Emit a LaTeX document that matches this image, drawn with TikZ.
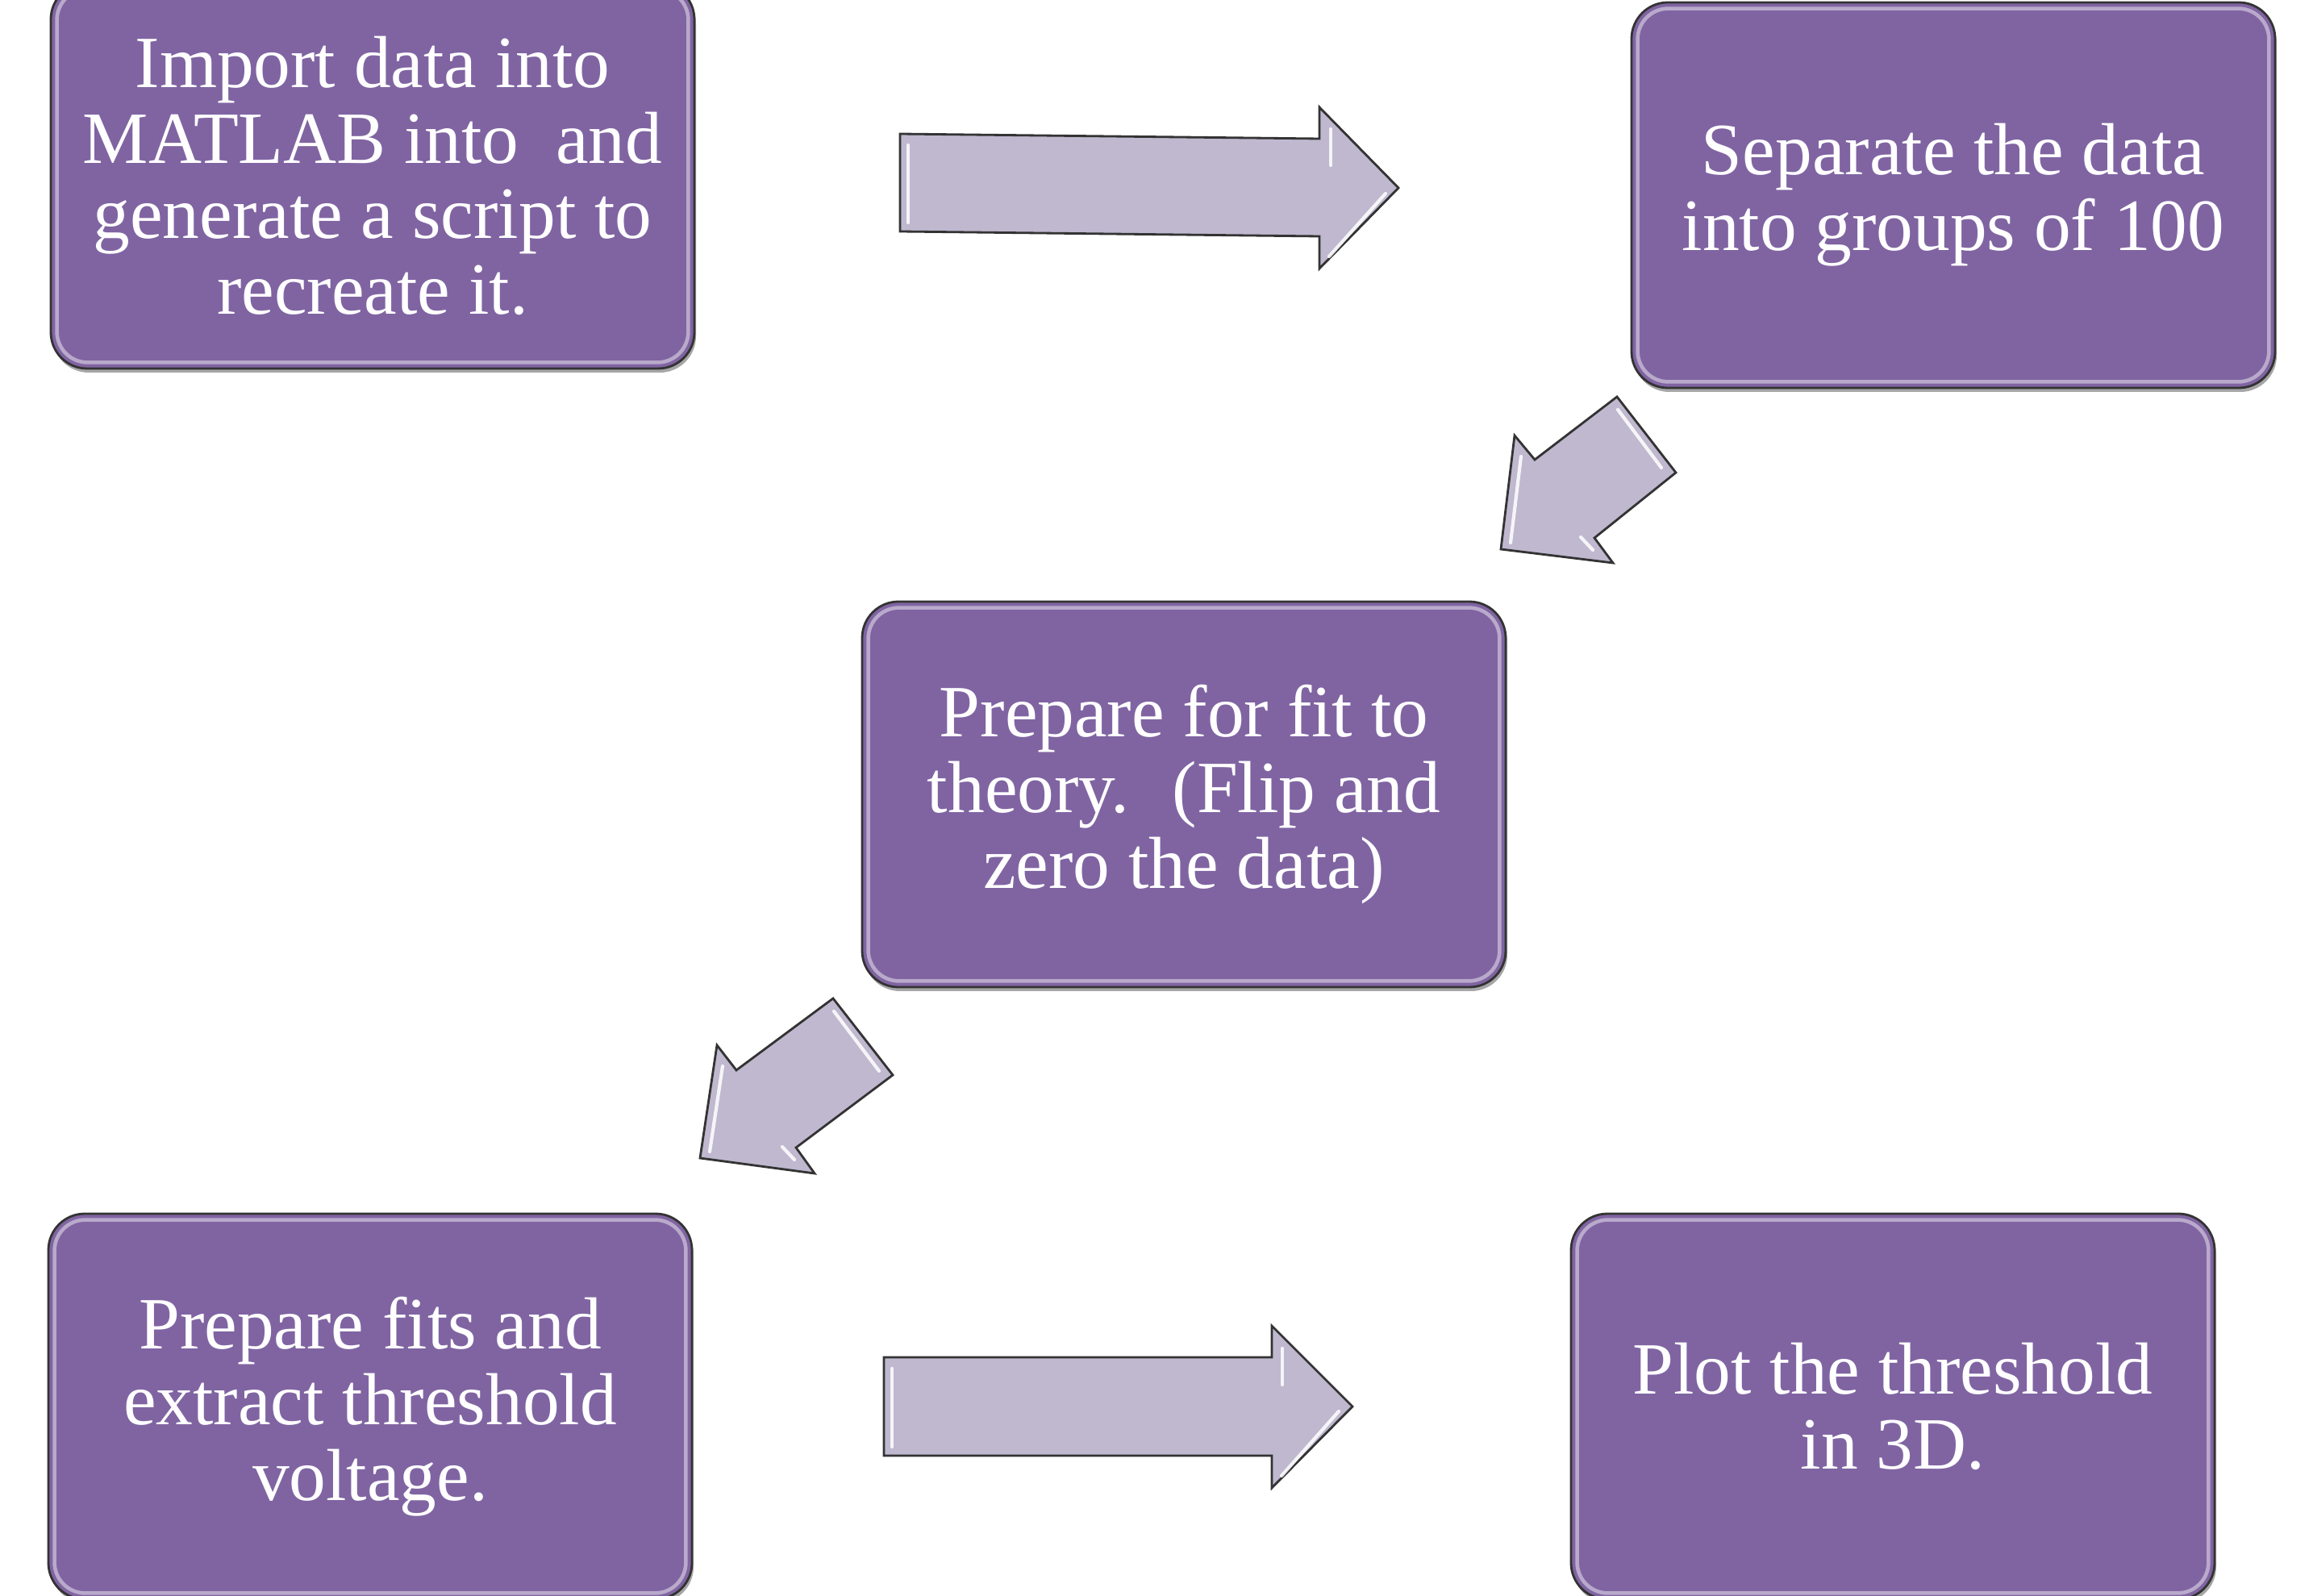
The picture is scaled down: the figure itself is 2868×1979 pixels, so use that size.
\documentclass[tikz,border=0pt]{standalone}
\usepackage{fontspec}
\setmainfont{Liberation Serif}
\usetikzlibrary{shadows}
\definecolor{boxfill}{HTML}{8064A2}
\definecolor{arrowfill}{HTML}{BFB8CF}
\definecolor{edgecol}{HTML}{333333}
\tikzset{
  stepbox/.style={draw=edgecol, line width=0.8pt, fill=boxfill, rounded corners=4.5mm,
    minimum width=79.8mm, minimum height=47.8mm, text=white, align=center, inner sep=0pt,
    font=\fontsize{26}{26.7}\selectfont,
    drop shadow={shadow xshift=0.2mm, shadow yshift=-0.5mm, opacity=0.35, fill=black}},
  bevel/.style={draw=white, opacity=0.45, line width=1.3pt, rounded corners=3.8mm},
  blockarrow/.style={fill=arrowfill, draw=edgecol, line width=0.8pt, line join=miter},
  shine/.style={draw=white, opacity=0.85, line width=1.2pt, line cap=round}
}
\begin{document}
\begin{tikzpicture}[x=0.1mm,y=-0.1mm]
\useasboundingbox (0,0) rectangle (2868,1979);

% boxes
\node[stepbox] (b1) at (462,218) {Import data into\\MATLAB into~ and\\generate a script to\\recreate it.};
\node[stepbox] (b2) at (2422,242) {Separate the data\\into groups of 100};
\node[stepbox] (b3) at (1468,985) {Prepare for fit to\\theory.~ (Flip and\\zero the data)};
\node[stepbox] (b4) at (459,1744) {Prepare fits and\\extract threshold\\voltage.};
\node[stepbox] (b5) at (2347,1744) {Plot the threshold\\in 3D.};

\foreach \b in {b1,b2,b3,b4,b5}{
  \draw[bevel] ([shift={(9,9)}]\b.north west) rectangle ([shift={(-9,-9)}]\b.south east);
}

% arrow 1 (b1 -> b2)
\draw[blockarrow] (1116,166) -- (1636,172) -- (1636,133) -- (1734,233) -- (1636,333) -- (1636,293) -- (1116,287) -- cycle;
\draw[shine] (1126,180) -- (1126,276);
\draw[shine] (1650,160) -- (1650,205);
\draw[shine] (1648,318) -- (1718,240);

% arrow 2 (b2 -> b3)
\draw[blockarrow] (2005,492) -- (2078,586) -- (1977,667) -- (2000,698) -- (1861,681) -- (1878,540) -- (1903,570) -- cycle;
\draw[shine] (2006,508) -- (2060,580);
\draw[shine] (1873,673) -- (1886,566);
\draw[shine] (1960,666) -- (1975,682);

% arrow 3 (b3 -> b4)
\draw[blockarrow] (1033,1238) -- (1107,1333) -- (987,1423) -- (1010,1455) -- (868,1436) -- (889,1296) -- (913,1327) -- cycle;
\draw[shine] (1034,1254) -- (1090,1328);
\draw[shine] (880,1428) -- (896,1322);
\draw[shine] (970,1422) -- (985,1438);

% arrow 4 (b4 -> b5)
\draw[blockarrow] (1096,1683) -- (1577,1683) -- (1577,1644) -- (1677,1744) -- (1577,1845) -- (1577,1805) -- (1096,1805) -- cycle;
\draw[shine] (1106,1697) -- (1106,1794);
\draw[shine] (1590,1672) -- (1590,1717);
\draw[shine] (1589,1830) -- (1660,1750);
\end{tikzpicture}
\end{document}
